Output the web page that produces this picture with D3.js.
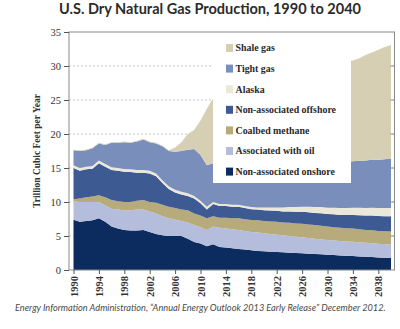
<!DOCTYPE html>
<html>
<head>
<meta charset="utf-8">
<script src="https://cdn.jsdelivr.net/npm/d3@7"></script>
<style>
  body { margin: 0; background: #fff; }
  svg { display: block; }
</style>
</head>
<body>
<script>
//////////////////////////////////////////////////////////////////////////////
// Data (trillion cubic feet), 1990 to 2040
//////////////////////////////////////////////////////////////////////////////
let years = d3.range(1990, 2041)

let onshore = [7.4, 7.1, 7.2, 7.3, 7.6, 7.1, 6.4, 6.1, 5.9, 5.8,
  5.8, 5.9, 5.6, 5.3, 5.1, 5.0, 5.0, 5.0, 4.6, 4.1,
  3.9, 3.5, 3.8, 3.4, 3.3, 3.2, 3.1, 3.0, 2.9, 2.8,
  2.75, 2.7, 2.65, 2.6, 2.55, 2.5, 2.45, 2.4, 2.35, 2.3,
  2.25, 2.2, 2.15, 2.1, 2.05, 2.0, 1.95, 1.9, 1.85, 1.8, 1.75]
let associated = [2.7, 2.9, 2.8, 2.7, 2.4, 2.4, 2.6, 2.8, 2.9, 3.0,
  3.1, 3.0, 3.0, 3.0, 2.8, 2.6, 2.4, 2.2, 2.4, 2.5,
  2.4, 2.4, 2.6, 2.8, 2.8, 2.8, 2.8, 2.75, 2.7, 2.7,
  2.65, 2.6, 2.55, 2.5, 2.45, 2.4, 2.35, 2.3, 2.25, 2.2,
  2.15, 2.15, 2.1, 2.1, 2.1, 2.05, 2.05, 2.05, 2.0, 2.0, 2.0]
let coalbed = [0.3, 0.5, 0.7, 0.8, 1.0, 1.2, 1.3, 1.2, 1.2, 1.2,
  1.3, 1.4, 1.4, 1.6, 1.7, 1.7, 1.7, 1.7, 1.8, 1.7,
  1.7, 1.7, 1.5, 1.5, 1.6, 1.6, 1.7, 1.7, 1.75, 1.8,
  1.8, 1.85, 1.9, 1.9, 1.95, 1.95, 2.0, 2.0, 2.0, 2.0,
  2.0, 1.95, 1.95, 1.95, 1.95, 1.95, 1.9, 1.9, 1.9, 1.9, 1.9]
let offshore = [4.6, 4.1, 4.1, 4.1, 4.7, 4.5, 4.4, 4.5, 4.45, 4.4,
  4.1, 4.0, 4.2, 3.9, 3.2, 2.6, 2.3, 2.2, 2.1, 2.2,
  1.8, 1.3, 1.8, 1.7, 1.7, 1.7, 1.7, 1.65, 1.6, 1.6,
  1.6, 1.6, 1.6, 1.6, 1.65, 1.7, 1.75, 1.8, 1.8, 1.85,
  1.85, 1.9, 1.9, 1.95, 2.0, 2.05, 2.1, 2.15, 2.2, 2.2, 2.25]
let alaska = [0.4, 0.4, 0.4, 0.4, 0.4, 0.4, 0.4, 0.4, 0.4, 0.4,
  0.4, 0.4, 0.4, 0.4, 0.4, 0.4, 0.4, 0.4, 0.4, 0.4,
  0.4, 0.4, 0.3, 0.3, 0.3, 0.3, 0.3, 0.3, 0.3, 0.3,
  0.4, 0.45, 0.5, 0.6, 0.65, 0.7, 0.75, 0.8, 0.85, 0.9,
  0.9, 0.95, 1.0, 1.0, 1.05, 1.1, 1.1, 1.15, 1.15, 1.2, 1.2]
let tight = [2.2, 2.5, 2.4, 2.6, 2.5, 2.8, 3.6, 3.7, 3.95, 3.9,
  4.2, 4.5, 4.2, 4.4, 5.0, 5.2, 5.6, 6.0, 6.4, 6.9,
  6.7, 6.1, 5.7, 6.0, 6.1, 6.2, 6.3, 6.4, 6.5, 6.6,
  6.6, 6.6, 6.6, 6.6, 6.6, 6.6, 6.6, 6.6, 6.6, 6.65,
  6.7, 6.75, 6.8, 6.8, 6.85, 6.9, 7.0, 7.05, 7.1, 7.2, 7.3]
let shale = [0.1, 0.1, 0.1, 0.1, 0.1, 0.1, 0.1, 0.1, 0.1, 0.1,
  0.1, 0.1, 0.1, 0.1, 0.1, 0.1, 0.6, 1.3, 2.3, 2.8,
  5.1, 8.3, 9.6, 9.8, 10.2, 10.6, 11.0, 11.4, 11.8, 12.1,
  12.4, 12.7, 13.0, 13.2, 13.4, 13.6, 13.8, 14.0, 14.2, 14.4,
  14.6, 14.7, 14.8, 14.8, 14.8, 15.1, 15.5, 15.8, 16.2, 16.5, 16.7]

// series names, bottom of the stack first
let seriesNames = ['Non-associated onshore', 'Associated with oil', 'Coalbed methane',
  'Non-associated offshore', 'Alaska', 'Tight gas', 'Shale gas']
let seriesValues = [onshore, associated, coalbed, offshore, alaska, tight, shale]
let seriesColors = ['#0c2c5f', '#b5bddc', '#b8ab7b', '#3d5a93', '#ebe8da', '#7a8ebb', '#d6cfb3']

let yTicks = [0, 5, 10, 15, 20, 25, 30, 35]
let xTicks = d3.range(1990, 2039, 4)

let titleText = 'U.S. Dry Natural Gas Production, 1990 to 2040'
let yTitle = 'Trillion Cubic Feet per Year'
let sourceText = 'Energy Information Administration, \u201cAnnual Energy Outlook 2013 Early Release\u201d December 2012.'

//////////////////////////////////////////////////////////////////////////////
// Layout
//////////////////////////////////////////////////////////////////////////////
let width = 400
let height = 329
let frame = { left: 69, right: 394.5, top: 32, bottom: 270 }
let serif = '"Liberation Serif", "Times New Roman", serif'

let svg = d3
  .select('body')
  .append('svg')
  .attr('width', width)
  .attr('height', height)

// build rows for the stack
let table = years.map((yr, i) => {
  let row = { year: yr }
  seriesNames.forEach((name, k) => { row[name] = seriesValues[k][i] })
  return row
})
let stack = d3.stack().keys(seriesNames)(table)

let x = d3
  .scaleLinear()
  .domain([1990, 2040])
  .range([73.5, 391])
let y = d3
  .scaleLinear()
  .domain([0, 35])
  .range([frame.bottom, frame.top])

// dashed gridlines
svg
  .append('g')
  .selectAll('line')
  .data(yTicks.filter(d => d > 0 && d < 35))
  .join('line')
  .attr('x1', frame.left)
  .attr('x2', frame.right)
  .attr('y1', d => y(d))
  .attr('y2', d => y(d))
  .attr('stroke', '#b5b5b5')
  .attr('stroke-width', 0.8)
  .attr('stroke-dasharray', '2,2')

// stacked areas
let area = d3
  .area()
  .x(d => x(d.data.year))
  .y0(d => y(d[0]))
  .y1(d => y(d[1]))

svg
  .append('g')
  .selectAll('path')
  .data(stack)
  .join('path')
  .attr('d', area)
  .attr('fill', (d, i) => seriesColors[i])

// frame
svg
  .append('rect')
  .attr('x', frame.left)
  .attr('y', frame.top)
  .attr('width', frame.right - frame.left)
  .attr('height', frame.bottom - frame.top)
  .attr('fill', 'none')
  .attr('stroke', '#8a8a8a')
  .attr('stroke-width', 1)

// little inner ticks on the right side
svg
  .append('g')
  .selectAll('line')
  .data(yTicks.filter(d => d > 0 && d < 35))
  .join('line')
  .attr('x1', frame.right - 4)
  .attr('x2', frame.right)
  .attr('y1', d => y(d))
  .attr('y2', d => y(d))
  .attr('stroke', '#8a8a8a')

// y axis
let yAxis = d3.axisLeft(y).tickValues(yTicks).tickSize(5).tickPadding(3)
let gy = svg
  .append('g')
  .attr('transform', `translate(${frame.left},0)`)
  .call(yAxis)
gy.select('.domain').remove()
gy.selectAll('line').attr('stroke', '#555')
gy.selectAll('text')
  .attr('font-family', serif)
  .attr('font-size', 10.5)
  .attr('fill', '#333')

// x axis, rotated labels
let xAxis = d3.axisBottom(x).tickValues(xTicks).tickFormat(d3.format('d')).tickSize(4)
let gx = svg
  .append('g')
  .attr('transform', `translate(0,${frame.bottom})`)
  .call(xAxis)
gx.select('.domain').remove()
gx.selectAll('line').attr('stroke', '#555')
gx.selectAll('text')
  .attr('font-family', serif)
  .attr('font-weight', 'bold')
  .attr('font-size', 10.5)
  .attr('fill', '#333')
  .attr('transform', 'rotate(-90)')
  .attr('text-anchor', 'end')
  .attr('x', -6)
  .attr('y', 0)
  .attr('dy', '0.35em')

// legend box covers the top of the plot
let legendBox = { x: 213, y: 33, w: 138, h: 150 }
svg
  .append('rect')
  .attr('x', legendBox.x)
  .attr('y', legendBox.y)
  .attr('width', legendBox.w)
  .attr('height', legendBox.h)
  .attr('fill', '#fff')

let legendOrder = seriesNames.slice().reverse()
let legend = svg
  .append('g')
  .selectAll('g')
  .data(legendOrder)
  .join('g')
  .attr('transform', (d, i) => `translate(226,${48 + i * 20.6})`)
legend
  .append('rect')
  .attr('x', 0)
  .attr('y', -4)
  .attr('width', 7)
  .attr('height', 8)
  .attr('fill', d => seriesColors[seriesNames.indexOf(d)])
legend
  .append('text')
  .attr('x', 9.5)
  .attr('y', 0)
  .attr('dy', '0.35em')
  .attr('font-family', serif)
  .attr('font-weight', 'bold')
  .attr('font-size', 9.9)
  .attr('fill', '#2a2a2a')
  .text(d => d)

// titles
svg
  .append('text')
  .attr('x', 210)
  .attr('y', 14)
  .attr('text-anchor', 'middle')
  .attr('font-family', 'Lato, "Open Sans", sans-serif')
  .attr('font-weight', 'bold')
  .attr('font-size', 14.5)
  .attr('fill', '#2b2b2b')
  .text(titleText)

svg
  .append('text')
  .attr('transform', 'translate(40,151) rotate(-90)')
  .attr('text-anchor', 'middle')
  .attr('font-family', serif)
  .attr('font-weight', 'bold')
  .attr('font-size', 9.5)
  .attr('fill', '#333')
  .text(yTitle)

svg
  .append('text')
  .attr('x', 15)
  .attr('y', 311)
  .attr('font-family', 'Lato, "Open Sans", sans-serif')
  .attr('font-style', 'italic')
  .attr('font-size', 9.2)
  .attr('fill', '#4a4a4a')
  .text(sourceText)
</script>
</body>
</html>
